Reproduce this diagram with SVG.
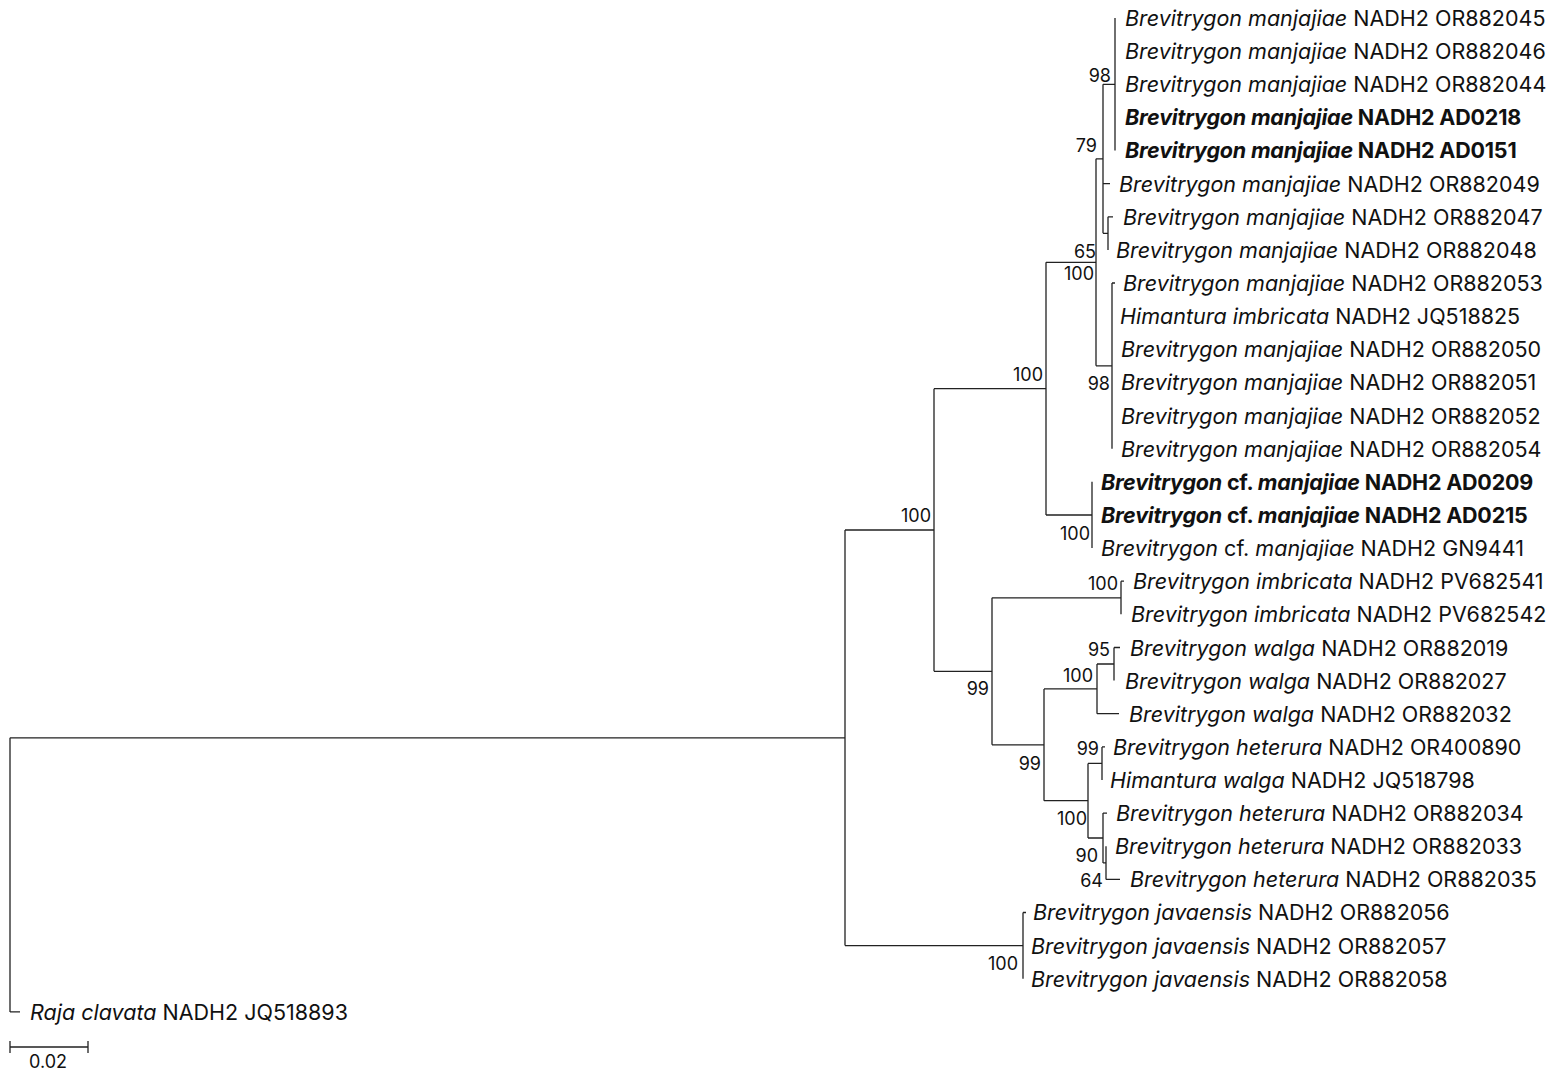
<svg xmlns="http://www.w3.org/2000/svg" width="1554" height="1076" viewBox="0 0 1554 1076">
<style>
.br{fill:none;stroke:#222;stroke-width:1.3}
.tip{font-family:Inter,"Liberation Sans",sans-serif;font-size:21.5px;fill:#111}
.b{font-weight:bold;letter-spacing:-0.2px}
.i{font-style:italic}
.bs{font-family:Inter,"Liberation Sans",sans-serif;font-size:18px;fill:#111;text-anchor:end}
</style>
<rect width="1554" height="1076" fill="#fff"/>
<g id="connectors">
<path class="br" d="M10,737.8V1011.9M10,737.8H845M10,1011.9H20"/>
<path class="br" d="M845,530V945.6M845,530H934M845,945.6H1023"/>
<path class="br" d="M934,388.7V671.3M934,388.7H1046M934,671.3H992"/>
<path class="br" d="M1046,262.3V515M1046,262.3H1096M1046,515H1092"/>
<path class="br" d="M1096,158.8V365.85M1096,158.8H1103M1096,365.85H1112"/>
<path class="br" d="M1103,84.3V233.35M1103,84.3H1115M1103,183.7H1110M1103,233.35H1108"/>
<path class="br" d="M1115,18V150.5"/>
<path class="br" d="M1108,216.8V249.9M1108,216.8H1113"/>
<path class="br" d="M1112,283V448.7M1112,283H1115"/>
<path class="br" d="M1092,481.8V548.1"/>
<path class="br" d="M992,597.8V744.8M992,597.8H1121M992,744.8H1044"/>
<path class="br" d="M1121,581.2V614.3M1121,581.2H1124"/>
<path class="br" d="M1044,688.9V800.7M1044,688.9H1097M1044,800.7H1088"/>
<path class="br" d="M1097,664V713.7M1097,664H1114M1097,713.7H1119"/>
<path class="br" d="M1114,647.5V680.6M1114,647.5H1120"/>
<path class="br" d="M1088,763.4V838M1088,763.4H1102M1088,838H1103"/>
<path class="br" d="M1102,746.9V780M1102,746.9H1105"/>
<path class="br" d="M1103,813.1V862.9M1103,813.1H1107M1103,862.9H1106"/>
<path class="br" d="M1106,846.3V879.4M1106,879.4H1120"/>
<path class="br" d="M1023,912.5V978.8M1023,912.5H1026"/>
</g>
<g id="support">
<text class="bs" x="1111" y="82">98</text>
<text class="bs" x="1097" y="152">79</text>
<text class="bs" x="1096" y="258">65</text>
<text class="bs" x="1094" y="280">100</text>
<text class="bs" x="1110" y="390">98</text>
<text class="bs" x="1043" y="381">100</text>
<text class="bs" x="931" y="522">100</text>
<text class="bs" x="1090" y="540">100</text>
<text class="bs" x="1118" y="590">100</text>
<text class="bs" x="989" y="695">99</text>
<text class="bs" x="1110" y="656">95</text>
<text class="bs" x="1093" y="682">100</text>
<text class="bs" x="1041" y="770">99</text>
<text class="bs" x="1099" y="755">99</text>
<text class="bs" x="1087" y="825">100</text>
<text class="bs" x="1098" y="862">90</text>
<text class="bs" x="1103" y="887">64</text>
<text class="bs" x="1018" y="970">100</text>
</g>
<g id="t0"><text class="tip" x="1125" y="26"><tspan class="i">Brevitrygon manjajiae</tspan> NADH2 OR882045</text></g>
<g id="t1"><text class="tip" x="1125" y="59"><tspan class="i">Brevitrygon manjajiae</tspan> NADH2 OR882046</text></g>
<g id="t2"><text class="tip" x="1125" y="92"><tspan class="i">Brevitrygon manjajiae</tspan> NADH2 OR882044</text></g>
<g id="t3"><text class="tip b" x="1125" y="125"><tspan class="i">Brevitrygon manjajiae</tspan> NADH2 AD0218</text></g>
<g id="t4"><text class="tip b" x="1125" y="158"><tspan class="i">Brevitrygon manjajiae</tspan> NADH2 AD0151</text></g>
<g id="t5"><text class="tip" x="1119" y="192"><tspan class="i">Brevitrygon manjajiae</tspan> NADH2 OR882049</text></g>
<g id="t6"><text class="tip" x="1123" y="225"><tspan class="i">Brevitrygon manjajiae</tspan> NADH2 OR882047</text></g>
<g id="t7"><text class="tip" x="1116" y="258"><tspan class="i">Brevitrygon manjajiae</tspan> NADH2 OR882048</text></g>
<g id="t8"><text class="tip" x="1123" y="291"><tspan class="i">Brevitrygon manjajiae</tspan> NADH2 OR882053</text></g>
<g id="t9"><text class="tip" x="1120" y="324"><tspan class="i">Himantura imbricata</tspan> NADH2 JQ518825</text></g>
<g id="t10"><text class="tip" x="1121" y="357"><tspan class="i">Brevitrygon manjajiae</tspan> NADH2 OR882050</text></g>
<g id="t11"><text class="tip" x="1121" y="390"><tspan class="i">Brevitrygon manjajiae</tspan> NADH2 OR882051</text></g>
<g id="t12"><text class="tip" x="1121" y="424"><tspan class="i">Brevitrygon manjajiae</tspan> NADH2 OR882052</text></g>
<g id="t13"><text class="tip" x="1121" y="457"><tspan class="i">Brevitrygon manjajiae</tspan> NADH2 OR882054</text></g>
<g id="t14"><text class="tip b" x="1101" y="490"><tspan class="i">Brevitrygon</tspan> cf. <tspan class="i">manjajiae</tspan> NADH2 AD0209</text></g>
<g id="t15"><text class="tip b" x="1101" y="523"><tspan class="i">Brevitrygon</tspan> cf. <tspan class="i">manjajiae</tspan> NADH2 AD0215</text></g>
<g id="t16"><text class="tip" x="1101" y="556"><tspan class="i">Brevitrygon</tspan> cf. <tspan class="i">manjajiae</tspan> NADH2 GN9441</text></g>
<g id="t17"><text class="tip" x="1133" y="589"><tspan class="i">Brevitrygon imbricata</tspan> NADH2 PV682541</text></g>
<g id="t18"><text class="tip" x="1131" y="622"><tspan class="i">Brevitrygon imbricata</tspan> NADH2 PV682542</text></g>
<g id="t19"><text class="tip" x="1130" y="656"><tspan class="i">Brevitrygon walga</tspan> NADH2 OR882019</text></g>
<g id="t20"><text class="tip" x="1125" y="689"><tspan class="i">Brevitrygon walga</tspan> NADH2 OR882027</text></g>
<g id="t21"><text class="tip" x="1129" y="722"><tspan class="i">Brevitrygon walga</tspan> NADH2 OR882032</text></g>
<g id="t22"><text class="tip" x="1113" y="755"><tspan class="i">Brevitrygon heterura</tspan> NADH2 OR400890</text></g>
<g id="t23"><text class="tip" x="1110" y="788"><tspan class="i">Himantura walga</tspan> NADH2 JQ518798</text></g>
<g id="t24"><text class="tip" x="1116" y="821"><tspan class="i">Brevitrygon heterura</tspan> NADH2 OR882034</text></g>
<g id="t25"><text class="tip" x="1115" y="854"><tspan class="i">Brevitrygon heterura</tspan> NADH2 OR882033</text></g>
<g id="t26"><text class="tip" x="1130" y="887"><tspan class="i">Brevitrygon heterura</tspan> NADH2 OR882035</text></g>
<g id="t27"><text class="tip" x="1033" y="920"><tspan class="i">Brevitrygon javaensis</tspan> NADH2 OR882056</text></g>
<g id="t28"><text class="tip" x="1031" y="954"><tspan class="i">Brevitrygon javaensis</tspan> NADH2 OR882057</text></g>
<g id="t29"><text class="tip" x="1031" y="987"><tspan class="i">Brevitrygon javaensis</tspan> NADH2 OR882058</text></g>
<g id="t30"><text class="tip" x="30" y="1020"><tspan class="i">Raja clavata</tspan> NADH2 JQ518893</text></g>
<g id="scale">
<path class="br" d="M10,1047H88M10,1041V1053M88,1041V1053"/>
<text class="bs" x="48" y="1068" style="text-anchor:middle">0.02</text>
</g>
</svg>
